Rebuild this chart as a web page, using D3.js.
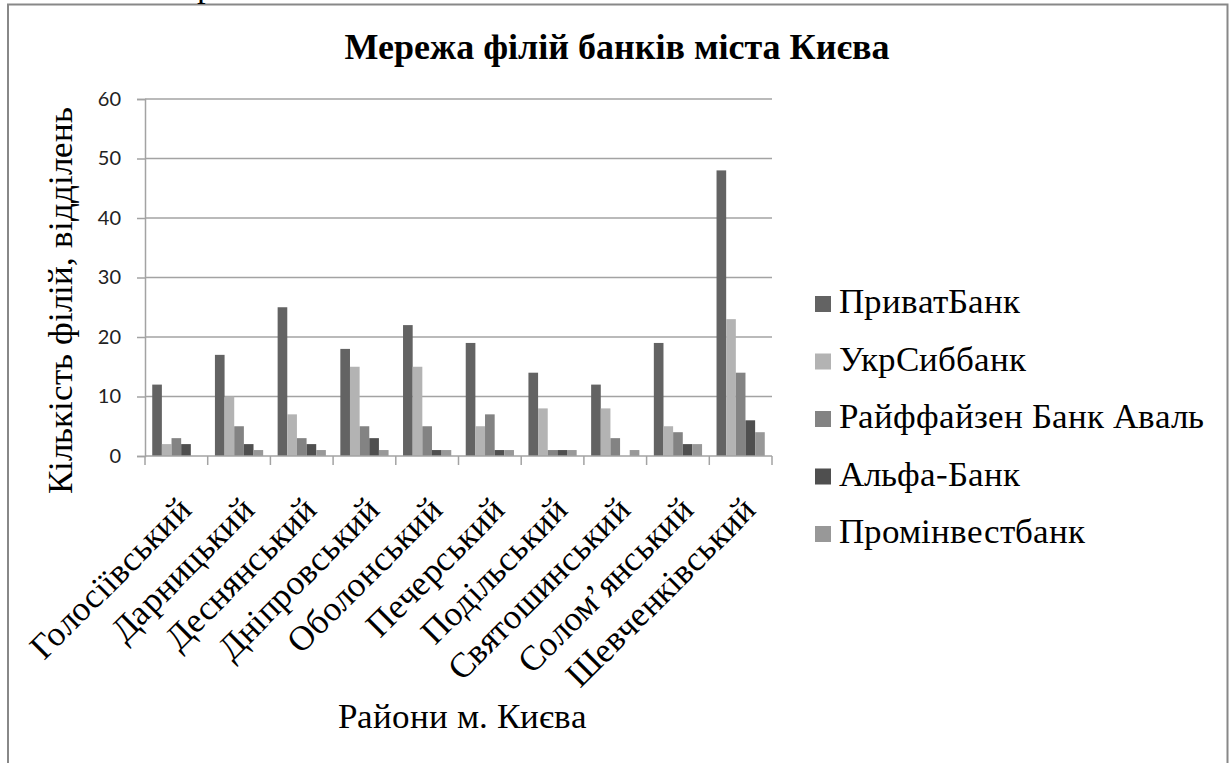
<!DOCTYPE html>
<html lang="uk">
<head>
<meta charset="utf-8">
<script src="https://cdn.jsdelivr.net/npm/d3@7"></script>
<style>
  @font-face {
    font-family: 'RefSerif';
    src: local('Liberation Serif'), local('LiberationSerif'), local('Liberation Serif Regular');
    font-weight: 400;
  }
  html, body { margin: 0; padding: 0; background: #fff; }
  svg { display: block; }
</style>
</head>
<body>
<div id="chart"></div>
<script>
// data
const districts = ['Голосіївський', 'Дарницький', 'Деснянський', 'Дніпровський', 'Оболонський',
  'Печерський', 'Подільський', 'Святошинський', 'Солом’янський', 'Шевченківський'];
const banks = ['ПриватБанк', 'УкрСиббанк', 'Райффайзен Банк Аваль', 'Альфа-Банк', 'Промінвестбанк'];
const privatBank = [12, 17, 25, 18, 22, 19, 14, 12, 19, 48];
const ukrSibBank = [2, 10, 7, 15, 15, 5, 8, 8, 5, 23];
const raiffeisen = [3, 5, 3, 5, 5, 7, 1, 3, 4, 14];
const alfaBank = [2, 2, 2, 3, 1, 1, 1, 0, 2, 6];
const promInvest = [0, 1, 1, 1, 1, 1, 1, 1, 2, 4];
const yTicks = [0, 10, 20, 30, 40, 50, 60];

const series = [privatBank, ukrSibBank, raiffeisen, alfaBank, promInvest];
const colors = ['#636363', '#b3b3b3', '#838383', '#4f4f4f', '#989898'];

const width = 1232, height = 763;

const svg = d3.select('#chart')
  .append('svg')
  .attr('width', width)
  .attr('height', height);

// regular serif text (local() face, so the Cyrillic glyphs come from the file itself)
function serifText(sel, pos, rot) {
  return sel
    .attr('transform', (d, i) => {
      const p = typeof pos === 'function' ? pos(d, i) : pos;
      return `translate(${p[0]},${p[1]}) rotate(${rot || 0})`;
    })
    .style('font-family', "'RefSerif', 'Liberation Serif', 'DejaVu Serif', serif")
    .style('font-size', '35px')
    .attr('fill', '#000');
}

// page frame around the chart
svg.append('path')
  .attr('d', 'M8,770 V4.5 H1227.5 V770')
  .attr('fill', 'none')
  .attr('stroke', '#888')
  .attr('stroke-width', 2);

// bit of document text peeking in above the frame
serifText(svg.append('text'), [197, -3])
  .text('р');

const plot = { left: 145, right: 772, top: 99, bottom: 456 };

const x0 = d3.scaleBand()
  .domain(districts)
  .range([plot.left, plot.right]);

const bw = x0.bandwidth();
const gap = bw * 0.75 / 6.5;
const x1 = d3.scaleBand()
  .domain(d3.range(banks.length))
  .range([gap, bw - gap]);

const y = d3.scaleLinear()
  .domain([0, 60])
  .range([plot.bottom, plot.top]);

// gridlines
svg.append('g')
  .selectAll('line')
  .data(yTicks.filter(d => d > 0))
  .enter()
  .append('line')
  .attr('x1', plot.left)
  .attr('x2', plot.right)
  .attr('y1', d => y(d))
  .attr('y2', d => y(d))
  .attr('stroke', '#a3a3a3')
  .attr('stroke-width', 1.5);

// bars
const groups = svg.append('g')
  .selectAll('g')
  .data(districts)
  .enter()
  .append('g')
  .attr('transform', d => `translate(${x0(d)},0)`);

groups.selectAll('rect')
  .data((d, i) => series.map((s, k) => ({ k, v: s[i] })))
  .enter()
  .append('rect')
  .attr('x', d => x1(d.k))
  .attr('width', x1.bandwidth())
  .attr('y', d => y(d.v))
  .attr('height', d => y(0) - y(d.v))
  .attr('fill', d => colors[d.k]);

// y axis
const yAxis = svg.append('g')
  .attr('transform', `translate(${plot.left},0)`)
  .call(d3.axisLeft(y).tickValues(yTicks).tickSize(8).tickPadding(16));
yAxis.selectAll('line, path').attr('stroke', '#a3a3a3').attr('stroke-width', 1.5);
yAxis.selectAll('text')
  .style('font-family', "Lato, 'Open Sans', sans-serif")
  .style('font-size', '20px')
  .attr('fill', '#222');

// x axis: ticks between groups
const xAxis = svg.append('g');
xAxis.append('line')
  .attr('x1', plot.left).attr('x2', plot.right)
  .attr('y1', plot.bottom).attr('y2', plot.bottom)
  .attr('stroke', '#a3a3a3').attr('stroke-width', 1.5);
xAxis.selectAll('line.tick')
  .data(districts.concat(['end']))
  .enter()
  .append('line')
  .attr('class', 'tick')
  .attr('x1', (d, i) => i < districts.length ? x0(d) : plot.right)
  .attr('x2', (d, i) => i < districts.length ? x0(d) : plot.right)
  .attr('y1', plot.bottom)
  .attr('y2', plot.bottom + 9)
  .attr('stroke', '#a3a3a3').attr('stroke-width', 1.5);

serifText(xAxis.selectAll('text')
  .data(districts)
  .enter()
  .append('text'), d => [x0(d) + bw / 2 + 17, 512], -45)
  .attr('text-anchor', 'end')
  .text(d => d);

// title and axis titles
svg.append('text')
  .attr('x', 617).attr('y', 59)
  .attr('text-anchor', 'middle')
  .style('font-family', "'Liberation Serif'")
  .style('font-weight', 700)
  .style('font-size', '36px')
  .text('Мережа філій банків міста Києва');

serifText(svg.append('text'), [72, 300], -90)
  .attr('text-anchor', 'middle')
  .text('Кількість філій, відділень');

serifText(svg.append('text'), [462, 728])
  .attr('text-anchor', 'middle')
  .text('Райони м. Києва');

// legend
const legend = svg.append('g')
  .selectAll('g')
  .data(banks)
  .enter()
  .append('g')
  .attr('transform', (d, i) => `translate(815,${313 + i * 57.5})`);

legend.append('rect')
  .attr('x', 0).attr('y', -17)
  .attr('width', 16).attr('height', 16)
  .attr('fill', (d, i) => colors[i]);

serifText(legend.append('text'), [24, 0])
  .text(d => d);
</script>
</body>
</html>
